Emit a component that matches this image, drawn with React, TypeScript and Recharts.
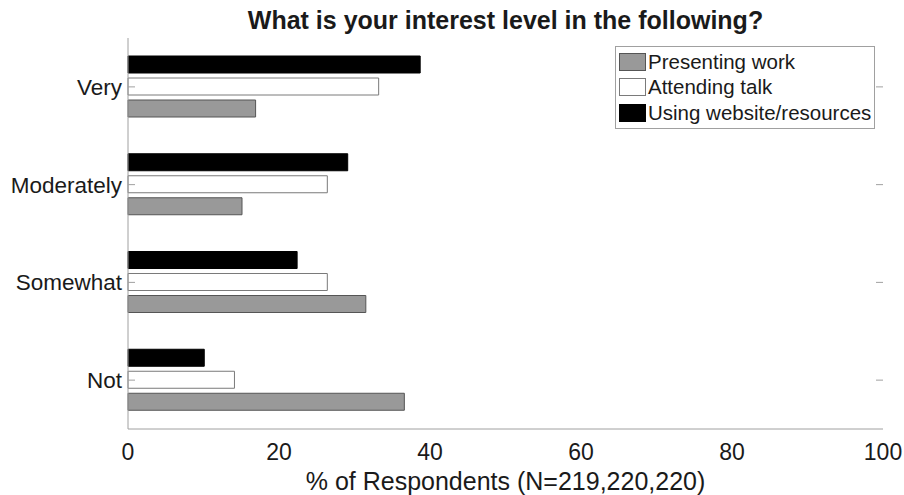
import { BarChart, Bar, XAxis, YAxis, ReferenceLine } from 'recharts';

const levels = ['Very', 'Moderately', 'Somewhat', 'Not'];
const presentingWork = [16.9, 15.1, 31.5, 36.6];
const attendingTalk = [33.2, 26.4, 26.4, 14.1];
const usingWebsite = [38.7, 29.1, 22.4, 10.1];
const xTicks = [0, 20, 40, 60, 80, 100];

const legendItems = [
  { name: 'Presenting work', fill: '#999999', stroke: '#555555' },
  { name: 'Attending talk', fill: '#ffffff', stroke: '#7a7a7a' },
  { name: 'Using website/resources', fill: '#000000', stroke: '#000000' },
];

const font = '"Liberation Sans", Arial, Helvetica, sans-serif';
const axisColor = '#a0a0a0';
const textColor = '#1a1a1a';
const TICK_LEN = 7;

// MATLAB-style inward ticks: short stubs at both ends of a horizontal reference line
function Stubs(props: any) {
  const { x1, x2, y1 } = props;
  const left = Math.min(x1, x2);
  const right = Math.max(x1, x2);
  return (
    <g>
      <line x1={left} x2={left + TICK_LEN} y1={y1} y2={y1} stroke={axisColor} />
      <line x1={right} x2={right - TICK_LEN} y1={y1} y2={y1} stroke={axisColor} />
    </g>
  );
}

export default function App() {
  const chartData = levels.map((level, i) => ({
    level,
    presenting: presentingWork[i],
    attending: attendingTalk[i],
    website: usingWebsite[i],
  }));

  return (
    <div style={{ position: 'absolute', left: 0, top: 0, width: 904, height: 495, background: '#fff' }}>
      <div
        style={{
          position: 'absolute',
          top: 8,
          left: 128,
          width: 755,
          textAlign: 'center',
          fontFamily: font,
          fontWeight: 'bold',
          fontSize: 25,
          lineHeight: '25px',
          color: textColor,
          whiteSpace: 'nowrap',
        }}
      >
        What is your interest level in the following?
      </div>

      <BarChart
        width={904}
        height={495}
        data={chartData}
        layout="vertical"
        margin={{ top: 38, right: 21, bottom: 0, left: 0 }}
        barSize={17}
        barGap={5}
      >
        <XAxis
          type="number"
          domain={[0, 100]}
          ticks={xTicks}
          height={66}
          tickSize={0}
          tickMargin={15}
          tickLine={false}
          stroke={axisColor}
          tick={{ fontFamily: font, fontSize: 23, fill: textColor }}
          label={{
            value: '% of Respondents (N=219,220,220)',
            position: 'insideBottom',
            offset: 5,
            style: { fontFamily: font, fontSize: 25, fill: textColor },
          }}
        />
        <XAxis xAxisId="top" orientation="top" type="number" domain={[0, 100]} height={0} tick={false} tickLine={false} stroke={axisColor} />
        <YAxis
          type="category"
          dataKey="level"
          width={128}
          tickSize={0}
          tickMargin={6}
          tickLine={false}
          stroke={axisColor}
          tick={{ fontFamily: font, fontSize: 22.5, fill: textColor }}
        />
        <YAxis yAxisId="right" orientation="right" type="category" dataKey="level" width={0} tick={false} tickLine={false} stroke={axisColor} />
        <Bar dataKey="website" name="Using website/resources" fill="#000000" stroke="#000000" isAnimationActive={false} />
        <Bar dataKey="attending" name="Attending talk" fill="#ffffff" stroke="#7a7a7a" isAnimationActive={false} />
        <Bar dataKey="presenting" name="Presenting work" fill="#999999" stroke="#555555" isAnimationActive={false} />
        {levels.map((lv) => (
          <ReferenceLine key={`y${lv}`} y={lv} shape={<Stubs />} />
        ))}
      </BarChart>

      <div
        style={{
          position: 'absolute',
          left: 615,
          top: 46,
          width: 258,
          height: 79,
          border: `1px solid ${axisColor}`,
          background: '#fff',
          paddingTop: 2,
          boxSizing: 'content-box',
        }}
      >
        {legendItems.map((item) => (
          <div key={item.name} style={{ display: 'flex', alignItems: 'center', height: 25.5 }}>
            <div
              style={{
                width: 25,
                height: 16,
                marginLeft: 3,
                marginRight: 2,
                background: item.fill,
                border: `1px solid ${item.stroke}`,
              }}
            />
            <span style={{ fontFamily: font, fontSize: 20.5, color: textColor, whiteSpace: 'nowrap' }}>{item.name}</span>
          </div>
        ))}
      </div>
    </div>
  );
}
